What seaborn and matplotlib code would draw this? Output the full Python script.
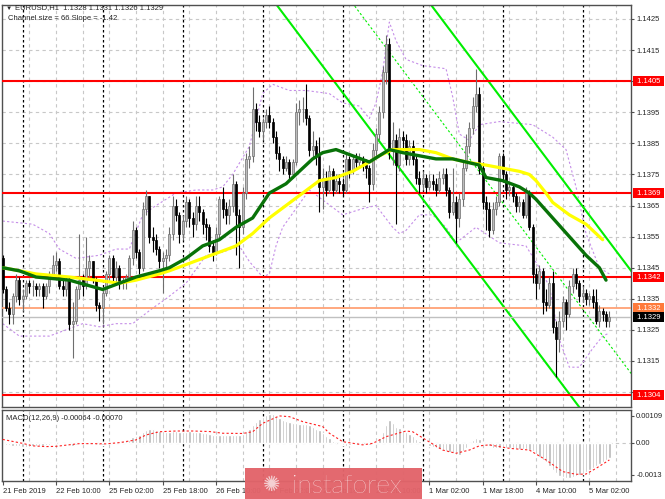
import numpy as np
import pandas as pd
import matplotlib
matplotlib.use("Agg")
import matplotlib.pyplot as plt
import matplotlib.transforms as mtransforms
from matplotlib.patches import Rectangle
import seaborn as sns

# EURUSD H1 candles, bar 0 = 21 Feb 18:00 ... bar 182 = 5 Mar 08:00
first_open = 1.1348
close = [1.1338, 1.1332, 1.1330, 1.1336, 1.1341, 1.1335, 1.1336, 1.1340, 1.1339, 1.1339,
         1.1338, 1.1339, 1.1336, 1.1339, 1.1343, 1.1346, 1.1347, 1.1339, 1.1338, 1.1341,
         1.1327, 1.1328, 1.1338, 1.1341, 1.1339, 1.1345, 1.1347, 1.1341, 1.1333, 1.1332,
         1.1337, 1.1343, 1.1348, 1.1342, 1.1345, 1.1340, 1.1341, 1.1342, 1.1348, 1.1357,
         1.1350, 1.1345, 1.1364, 1.1368, 1.1355, 1.1354, 1.1351, 1.1347,
         1.1348, 1.1349, 1.1356, 1.1365, 1.1362, 1.1356, 1.1360, 1.1366, 1.1361, 1.1359,
         1.1365, 1.1363, 1.1359, 1.1358, 1.1352, 1.1350, 1.1356, 1.1367, 1.1364, 1.1362,
         1.1365, 1.1372, 1.1362, 1.1358, 1.1369, 1.1380, 1.1381, 1.1396, 1.1392, 1.1389,
         1.1392, 1.1394, 1.1392, 1.1387, 1.1382, 1.1380, 1.1377, 1.1379, 1.1375, 1.1379,
         1.1395, 1.1396, 1.1396, 1.1393, 1.1383,
         1.1384, 1.1381, 1.1371, 1.1374, 1.1370, 1.1376, 1.1370,
         1.1373, 1.1372, 1.1370, 1.1380, 1.1376, 1.1380, 1.1379, 1.1380, 1.1378, 1.1377,
         1.1372, 1.1383, 1.1388, 1.1395, 1.1408, 1.1417, 1.1383, 1.1386, 1.1378, 1.1387,
         1.1386, 1.1380, 1.1384, 1.1380, 1.1374, 1.1372, 1.1374, 1.1371, 1.1373, 1.1372,
         1.1370, 1.1374, 1.1375, 1.1370, 1.1363, 1.1366, 1.1361, 1.1367, 1.1377, 1.1384,
         1.1390, 1.1397, 1.1401, 1.1377, 1.1366, 1.1364, 1.1357, 1.1364, 1.1366, 1.1381,
         1.1375, 1.1370, 1.1371, 1.1368, 1.1365, 1.1366, 1.1362, 1.1369, 1.1358, 1.1343,
         1.1340, 1.1344, 1.1334, 1.1333, 1.1340, 1.1326, 1.1322, 1.1328, 1.1334, 1.1330,
         1.1339, 1.1343, 1.1340, 1.1336, 1.1337, 1.1335, 1.1336, 1.1334, 1.1328, 1.1331,
         1.1330, 1.1328, 1.1329]
high = [1.1349, 1.1339, 1.1334, 1.1337, 1.1343, 1.1342, 1.1338, 1.1341, 1.1341, 1.1341,
        1.1340, 1.1340, 1.1340, 1.1340, 1.1344, 1.1349, 1.1350, 1.1348, 1.1342, 1.1342,
        1.1342, 1.1334, 1.1339, 1.1356, 1.1343, 1.1355, 1.1349, 1.1347, 1.1342, 1.1334,
        1.1338, 1.1344, 1.1349, 1.1349, 1.1347, 1.1346, 1.1342, 1.1343, 1.1349, 1.1360,
        1.1358, 1.1351, 1.1366, 1.1370, 1.1368, 1.1358, 1.1356, 1.1352,
        1.1350, 1.1351, 1.1358, 1.1368, 1.1367, 1.1363, 1.1362, 1.1368, 1.1367, 1.1363,
        1.1368, 1.1368, 1.1364, 1.1361, 1.1359, 1.1354, 1.1358, 1.1368, 1.1371, 1.1366,
        1.1367, 1.1375, 1.1373, 1.1364, 1.1371, 1.1382, 1.1384, 1.1403, 1.1398, 1.1394,
        1.1393, 1.1396, 1.1397, 1.1393, 1.1389, 1.1384, 1.1381, 1.1381, 1.1380, 1.1380,
        1.1398, 1.1399, 1.1400, 1.1404, 1.1394,
        1.1389, 1.1386, 1.1387, 1.1377, 1.1376, 1.1378, 1.1377,
        1.1375, 1.1375, 1.1374, 1.1382, 1.1381, 1.1381, 1.1382, 1.1382, 1.1381, 1.1380,
        1.1378, 1.1385, 1.1390, 1.1397, 1.1410, 1.1420, 1.1419, 1.1392, 1.1388, 1.1390,
        1.1389, 1.1388, 1.1386, 1.1386, 1.1381, 1.1376, 1.1376, 1.1375, 1.1375, 1.1375,
        1.1374, 1.1376, 1.1377, 1.1377, 1.1371, 1.1377, 1.1368, 1.1369, 1.1379, 1.1388,
        1.1392, 1.1400, 1.1409, 1.1403, 1.1379, 1.1368, 1.1366, 1.1366, 1.1368, 1.1382,
        1.1382, 1.1376, 1.1373, 1.1372, 1.1369, 1.1368, 1.1367, 1.1371, 1.1370, 1.1359,
        1.1345, 1.1346, 1.1345, 1.1338, 1.1342, 1.1344, 1.1328, 1.1331, 1.1336, 1.1335,
        1.1341, 1.1345, 1.1345, 1.1341, 1.1339, 1.1338, 1.1337, 1.1338, 1.1338, 1.1333,
        1.1332, 1.1331, 1.1331]
low = [1.1337, 1.1331, 1.1327, 1.1327, 1.1334, 1.1333, 1.1331, 1.1335, 1.1337, 1.1336,
       1.1336, 1.1336, 1.1332, 1.1335, 1.1337, 1.1342, 1.1344, 1.1338, 1.1336, 1.1336,
       1.1325, 1.1316, 1.1327, 1.1335, 1.1336, 1.1338, 1.1342, 1.1340, 1.1331, 1.1328,
       1.1327, 1.1336, 1.1341, 1.1340, 1.1340, 1.1338, 1.1338, 1.1338, 1.1341, 1.1346,
       1.1348, 1.1343, 1.1344, 1.1362, 1.1353, 1.1350, 1.1349, 1.1345,
       1.1337, 1.1344, 1.1347, 1.1354, 1.1360, 1.1353, 1.1354, 1.1358, 1.1358, 1.1355,
       1.1357, 1.1360, 1.1356, 1.1354, 1.1350, 1.1347, 1.1349, 1.1354, 1.1361, 1.1359,
       1.1359, 1.1363, 1.1349, 1.1345, 1.1356, 1.1367, 1.1377, 1.1379, 1.1389, 1.1387,
       1.1386, 1.1390, 1.1390, 1.1385, 1.1380, 1.1376, 1.1375, 1.1376, 1.1373, 1.1374,
       1.1378, 1.1391, 1.1392, 1.1391, 1.1381,
       1.1380, 1.1378, 1.1363, 1.1364, 1.1368, 1.1369, 1.1368,
       1.1369, 1.1369, 1.1368, 1.1369, 1.1374, 1.1375, 1.1377, 1.1377, 1.1376, 1.1374,
       1.1366, 1.1370, 1.1381, 1.1386, 1.1393, 1.1404, 1.1380, 1.1378, 1.1359, 1.1376,
       1.1383, 1.1378, 1.1378, 1.1378, 1.1372, 1.1369, 1.1370, 1.1369, 1.1370, 1.1370,
       1.1368, 1.1369, 1.1372, 1.1368, 1.1361, 1.1362, 1.1353, 1.1358, 1.1365, 1.1376,
       1.1382, 1.1388, 1.1395, 1.1375, 1.1364, 1.1357, 1.1355, 1.1356, 1.1362, 1.1365,
       1.1373, 1.1367, 1.1368, 1.1366, 1.1363, 1.1363, 1.1361, 1.1361, 1.1357, 1.1340,
       1.1335, 1.1338, 1.1330, 1.1331, 1.1332, 1.1324, 1.1310, 1.1318, 1.1326, 1.1325,
       1.1329, 1.1337, 1.1338, 1.1334, 1.1334, 1.1333, 1.1333, 1.1332, 1.1327, 1.1326,
       1.1328, 1.1326, 1.1326]

# moving averages (bar index, price)
green_bar = [0, 5, 10, 20, 30, 40, 47, 50, 55, 60, 65, 70, 75, 80, 85, 90, 93, 96, 100,
             105, 110, 113, 116, 120, 125, 130, 135, 139, 143, 145, 150, 155, 158, 160,
             165, 170, 175, 179, 181]
green_val = [1.1345, 1.1344, 1.1342, 1.1341, 1.1338, 1.1342, 1.1344, 1.1345, 1.1348, 1.1352,
             1.1354, 1.1358, 1.1361, 1.1369, 1.1372, 1.1377, 1.1380, 1.1382, 1.1383,
             1.1381, 1.1379, 1.1381, 1.1383, 1.1382, 1.1381, 1.1380, 1.1380, 1.1379, 1.1378,
             1.1374, 1.1373, 1.1371, 1.1369, 1.1367, 1.1361, 1.1355, 1.1349, 1.1345, 1.1341]
yellow_bar = [0, 10, 20, 28, 35, 40, 47, 50, 55, 60, 65, 70, 75, 80, 85, 90, 95, 100, 105,
              110, 113, 117, 120, 125, 130, 135, 139, 145, 150, 155, 158, 160, 163, 165,
              170, 175, 178, 180]
yellow_val = [1.1345, 1.1343, 1.1342, 1.1341, 1.1340, 1.1341, 1.1343, 1.1344, 1.1346, 1.1348,
              1.1350, 1.1352, 1.1356, 1.1361, 1.1365, 1.1369, 1.1373, 1.1374, 1.1376,
              1.1379, 1.1381, 1.1383, 1.1383, 1.1383, 1.1382, 1.1380, 1.1379, 1.1378, 1.1377,
              1.1376, 1.1375, 1.1373, 1.1369, 1.1366, 1.1362, 1.1359, 1.1356, 1.1354]

# envelope bands (purple dotted)
band_up_bar = [0, 9, 14, 17, 22, 29, 34, 38, 42, 46, 52, 58, 63, 66, 69, 74, 78, 81, 86, 91,
               98, 102, 107, 110, 112, 114, 116, 118, 121, 126, 133, 135, 137, 140, 143,
               149, 159, 165, 169, 172, 175, 179, 182]
band_up_val = [1.1360, 1.1359, 1.1356, 1.1351, 1.1348, 1.1349, 1.1351, 1.1351, 1.1362, 1.1365,
               1.1369, 1.1370, 1.1370, 1.1371, 1.1375, 1.1384, 1.1401, 1.1404, 1.1402, 1.1402,
               1.1401, 1.1398, 1.1397, 1.1393, 1.1398, 1.1408, 1.1424, 1.1418, 1.1412, 1.1410,
               1.1409, 1.1400, 1.1388, 1.1386, 1.1391, 1.1392, 1.1391, 1.1387, 1.1383, 1.1371,
               1.1356, 1.1345, 1.1343]
band_lo_bar = [0, 5, 14, 24, 29, 34, 39, 45, 49, 55, 61, 66, 71, 74, 78, 80, 82, 84, 88, 92,
               97, 102, 108, 112, 117, 119, 121, 125, 129, 133, 136, 142, 149, 157, 161,
               164, 167, 170, 173, 177, 180, 182]
band_lo_val = [1.1327, 1.1323, 1.1323, 1.1327, 1.1326, 1.1327, 1.1327, 1.1332, 1.1335, 1.1340,
               1.1349, 1.1350, 1.1352, 1.1347, 1.1342, 1.1343, 1.1352, 1.1358, 1.1364, 1.1370,
               1.1366, 1.1362, 1.1364, 1.1365, 1.1358, 1.1356, 1.1357, 1.1362, 1.1362, 1.1358,
               1.1353, 1.1358, 1.1353, 1.1352, 1.1345, 1.1339, 1.1322, 1.1313, 1.1313, 1.1319,
               1.1323, 1.1324]

# MACD(12,26,9), in units of 0.0001
macd_hist = [-0.5, -0.8, -1.0, -1.3, -1.2, -1.4, -1.6, -1.7, -1.7, -1.5,
             -1.3, -1.2, -1.3, -1.1, -0.8, -0.5, -0.3, -0.5, -0.7, -0.6,
             -1.0, -1.2, -0.9, -0.6, -0.5, -0.3, -0.2, -0.4, -0.8, -1.0,
             -1.0, -0.6, -0.2, 0.2, 0.4, 0.5, 0.6, 0.8, 1.2, 2.2,
             2.8, 3.2, 4.2, 5.2, 5.7, 5.6, 5.3, 4.9, 4.6, 4.4,
             4.5, 4.7, 4.7, 4.5, 4.4, 4.5, 4.6, 4.4, 4.3, 4.2,
             4.0, 3.8, 3.5, 3.2, 3.0, 3.1, 3.2, 3.1, 3.0, 3.2,
             3.1, 3.0, 3.6, 4.6, 5.6, 7.2, 8.5, 9.5, 10.5, 11.3,
             11.7, 11.5, 10.8, 10.0, 9.3, 8.7, 8.2, 7.8, 7.8, 7.7,
             7.6, 7.5, 7.0, 6.3, 5.7, 5.0, 3.9, 2.8, 1.8, 0.8,
             0.0, -0.6, -1.0, -1.2, -0.9, -0.6, -0.3, -0.2, -0.3, -0.5,
             -0.8, -0.3, 0.5, 2.0, 4.5, 7.0, 9.0, 8.0, 6.5, 6.0,
             5.2, 4.5, 3.5, 2.5, 1.5, 0.8, 0.2, -0.5, -1.2, -1.8,
             -2.3, -2.7, -3.0, -3.3, -3.8, -4.2, -4.8, -5.0, -3.5, -2.0,
             -0.5, 1.0, 1.7, 1.5, 0.3, -0.5, -1.5, -2.0, -2.3, -2.0,
             -1.8, -2.0, -2.2, -2.3, -2.5, -2.6, -2.7, -2.6, -2.8, -3.5,
             -4.5, -6.0, -7.0, -8.0, -9.5, -11.0, -12.3, -13.3, -14.0, -14.3,
             -14.3, -14.0, -13.5, -13.0, -12.5, -12.0, -11.0, -10.3, -9.5, -8.8,
             -8.0, -7.2, -6.4]
signal_bar = [0, 6, 9, 13, 16, 23, 27, 31, 35, 40, 43, 47, 52, 57, 62, 66, 72, 75, 78, 83,
              86, 90, 96, 98, 102, 108, 111, 115, 121, 123, 127, 132, 136, 140, 143, 146,
              152, 158, 163, 168, 172, 175, 178, 182]
signal_val = [1.3, -0.3, -1.3, -1.6, -1.5, -0.4, -0.4, -0.5, 0.0, 1.1, 3.1, 4.4, 4.7, 4.7,
              4.5, 3.8, 3.7, 4.4, 7.8, 10.8, 10.5, 8.5, 6.5, 3.8, 0.4, -0.9, -0.3, 2.4,
              4.7, 4.4, 1.1, -3.0, -4.3, -3.0, -1.3, -0.9, -2.3, -3.0, -7.0, -11.7, -12.8,
              -12.7, -10.4, -7.0]

# regression channel anchors (lower border) and width
chan_bar = [86, 170]
chan_low = [1.14241, 1.13044]
chan_size = 0.0066

levels = [1.1405, 1.1369, 1.1342, 1.1304]
ask_price = 1.1332
bid_price = 1.1329

tick_bars = [0, 16, 32, 48, 64, 80, 96, 112, 128, 144, 160, 176]
tick_text = ["21 Feb 2019", "22 Feb 10:00", "25 Feb 02:00", "25 Feb 18:00", "26 Feb 10:00",
             "27 Feb 02:00", "27 Feb 18:00", "28 Feb 10:00", "1 Mar 02:00", "1 Mar 18:00",
             "4 Mar 10:00", "5 Mar 02:00"]
day_bars = [6, 30, 54, 78, 102, 126, 150, 174]
price_ticks = [1.1305, 1.1315, 1.1325, 1.1335, 1.1345, 1.1355, 1.1365, 1.1375, 1.1385,
               1.1395, 1.1405, 1.1415, 1.1425]
price_labels = ["", "1.1315", "1.1325", "1.1335", "1.1345", "1.1355", "1.1365", "1.1375",
                "1.1385", "1.1395", "", "1.1415", "1.1425"]

sns.set_style("white")
plt.rcParams['font.family'] = ['Liberation Sans', 'DejaVu Sans']
FS = 5.5

df = pd.DataFrame({"close": close, "high": high, "low": low})
df["open"] = [first_open] + close[:-1]
df["bar"] = np.arange(len(df))
df["macd"] = np.array(macd_hist) * 1e-4

fig = plt.figure(figsize=(6.65, 4.99), dpi=100)
ax = fig.add_axes([0.003, 0.1844, 0.9459, 0.8056])
axm = fig.add_axes([0.003, 0.0361, 0.9459, 0.1423], sharex=ax)

grid_kw = dict(color="#c8c8c8", lw=0.8, ls=(0, (3, 3)), zorder=0)
for a in (ax, axm):
    for b in range(8, 189, 8):
        a.axvline(b, **grid_kw)
    for b in day_bars:
        a.axvline(b, color="black", lw=0.9, ls=(0, (2, 2)), zorder=0.5)
    for sp in a.spines.values():
        sp.set_color("#505050")
        sp.set_linewidth(1)
for p in price_ticks:
    ax.axhline(p, **grid_kw)
axm.axhline(0, **grid_kw)

# bands and channel
sns.lineplot(x=band_up_bar, y=band_up_val, ax=ax, color="#c58ee8", lw=0.8,
             linestyle=(0, (2, 2)), sort=False, zorder=1)
sns.lineplot(x=band_lo_bar, y=band_lo_val, ax=ax, color="#c58ee8", lw=0.8,
             linestyle=(0, (2, 2)), sort=False, zorder=1)
slope = (chan_low[1] - chan_low[0]) / (chan_bar[1] - chan_bar[0])
cx = np.array([40, 190])
base = chan_low[0] + slope * (cx - chan_bar[0])
ax.plot(cx, base, color="#00ee00", lw=1.5, zorder=2)
ax.plot(cx, base + chan_size, color="#00ee00", lw=1.5, zorder=2)
ax.plot(cx, base + chan_size / 2, color="#00ee00", lw=0.8, ls=(0, (2, 2)), zorder=2)

for lv in levels:
    ax.axhline(lv, color="#ff0000", lw=1.5, zorder=3)
ax.axhline(ask_price, color="#ff9a6a", lw=1.2, zorder=3)
ax.axhline(bid_price, color="#c0c0c0", lw=1.0, zorder=3)

# candles
up = df["close"] >= df["open"]
for mask, fc, ec in [(up, "#bcbcbc", "#6e6e6e"), (~up, "black", "black")]:
    d = df[mask]
    ax.vlines(d["bar"], d["low"], d["high"], color=ec, lw=0.8, zorder=4)
    bottom = np.minimum(d["open"], d["close"])
    height = np.maximum((d["close"] - d["open"]).abs(), 0.00002)
    ax.bar(d["bar"], height, bottom=bottom, width=0.62, color=fc, edgecolor=ec,
           linewidth=0.5, zorder=5)

sns.lineplot(x=yellow_bar, y=yellow_val, ax=ax, color="#ffff00", lw=2.3, sort=False, zorder=6)
sns.lineplot(x=green_bar, y=green_val, ax=ax, color="#087208", lw=2.4, sort=False, zorder=6)

ax.set_xlim(-0.2, 188.5)
ax.set_ylim(1.13002, 1.14295)
ax.yaxis.tick_right()
ax.set_yticks(price_ticks)
ax.set_yticklabels(price_labels)
ax.tick_params(axis="y", right=True, length=2.5, width=0.8, pad=1.5, labelsize=FS,
               color="#505050")
ax.tick_params(axis="x", bottom=False, labelbottom=False)
ax.set_xlabel("")
ax.set_ylabel("")

tr = mtransforms.blended_transform_factory(ax.transAxes, ax.transData)
for val, fc in [(1.1405, "#ff0000"), (1.1369, "#ff0000"), (1.1342, "#ff0000"),
                (1.1304, "#ff0000"), (ask_price, "#ff7a3a"), (bid_price, "black")]:
    ax.text(1.006, val, f" {val:.4f} ", transform=tr, ha="left", va="center", fontsize=FS,
            color="white", zorder=10, clip_on=False,
            bbox=dict(boxstyle="square,pad=0.2", fc=fc, ec="none"))

# MACD panel
axm.bar(df["bar"], df["macd"], width=0.7, color="#b8b8b8", zorder=2)
axm.plot(signal_bar, np.array(signal_val) * 1e-4, color="#ff2020", lw=0.8,
         ls=(0, (2, 2)), zorder=3)
axm.set_ylim(-0.00155, 0.00132)
axm.yaxis.tick_right()
axm.set_yticks([0.00109, 0.0, -0.0013])
axm.set_yticklabels(["0.00109", "0.00", "-0.0013"])
axm.tick_params(axis="y", right=True, length=2.5, width=0.8, pad=1.2, labelsize=FS,
                color="#505050")
axm.set_xticks(tick_bars)
axm.set_xticklabels(tick_text)
axm.tick_params(axis="x", bottom=True, length=3, width=0.8, pad=2, labelsize=FS,
                color="#505050")
for t in axm.get_xticklabels():
    t.set_ha("left")
axm.text(0.006, 0.93, "MACD(12,26,9) -0.00064 -0.00070", transform=axm.transAxes,
         ha="left", va="top", fontsize=FS)

fig.text(6 / 665, 1 - 8 / 499, "\u25bc", fontsize=4.5, va="center", ha="left")
fig.text(15 / 665, 1 - 8 / 499, "EURUSD,H1  1.1328 1.1331 1.1326 1.1329", fontsize=FS,
         va="center", ha="left")
fig.text(8 / 665, 1 - 19 / 499, "Channel size = 66 Slope = -1.42", fontsize=FS,
         va="center", ha="left")

# instaforex badge
fig.patches.append(Rectangle((245 / 665, 0), 177 / 665, 31 / 499, transform=fig.transFigure,
                             fc="#e2646a", ec="none", alpha=0.97, zorder=20))
fig.text(272 / 665, 14 / 499, "\u273a", fontsize=15, color="#f4d0d2", ha="center",
         va="center", zorder=21, family=["DejaVu Sans"])
fig.text(292 / 665, 13 / 499, "instaforex", fontsize=19, color="white", ha="left",
         va="center", zorder=21, family=["Lato", "DejaVu Sans"], fontweight="light")

fig.savefig("out.png", dpi=100)
